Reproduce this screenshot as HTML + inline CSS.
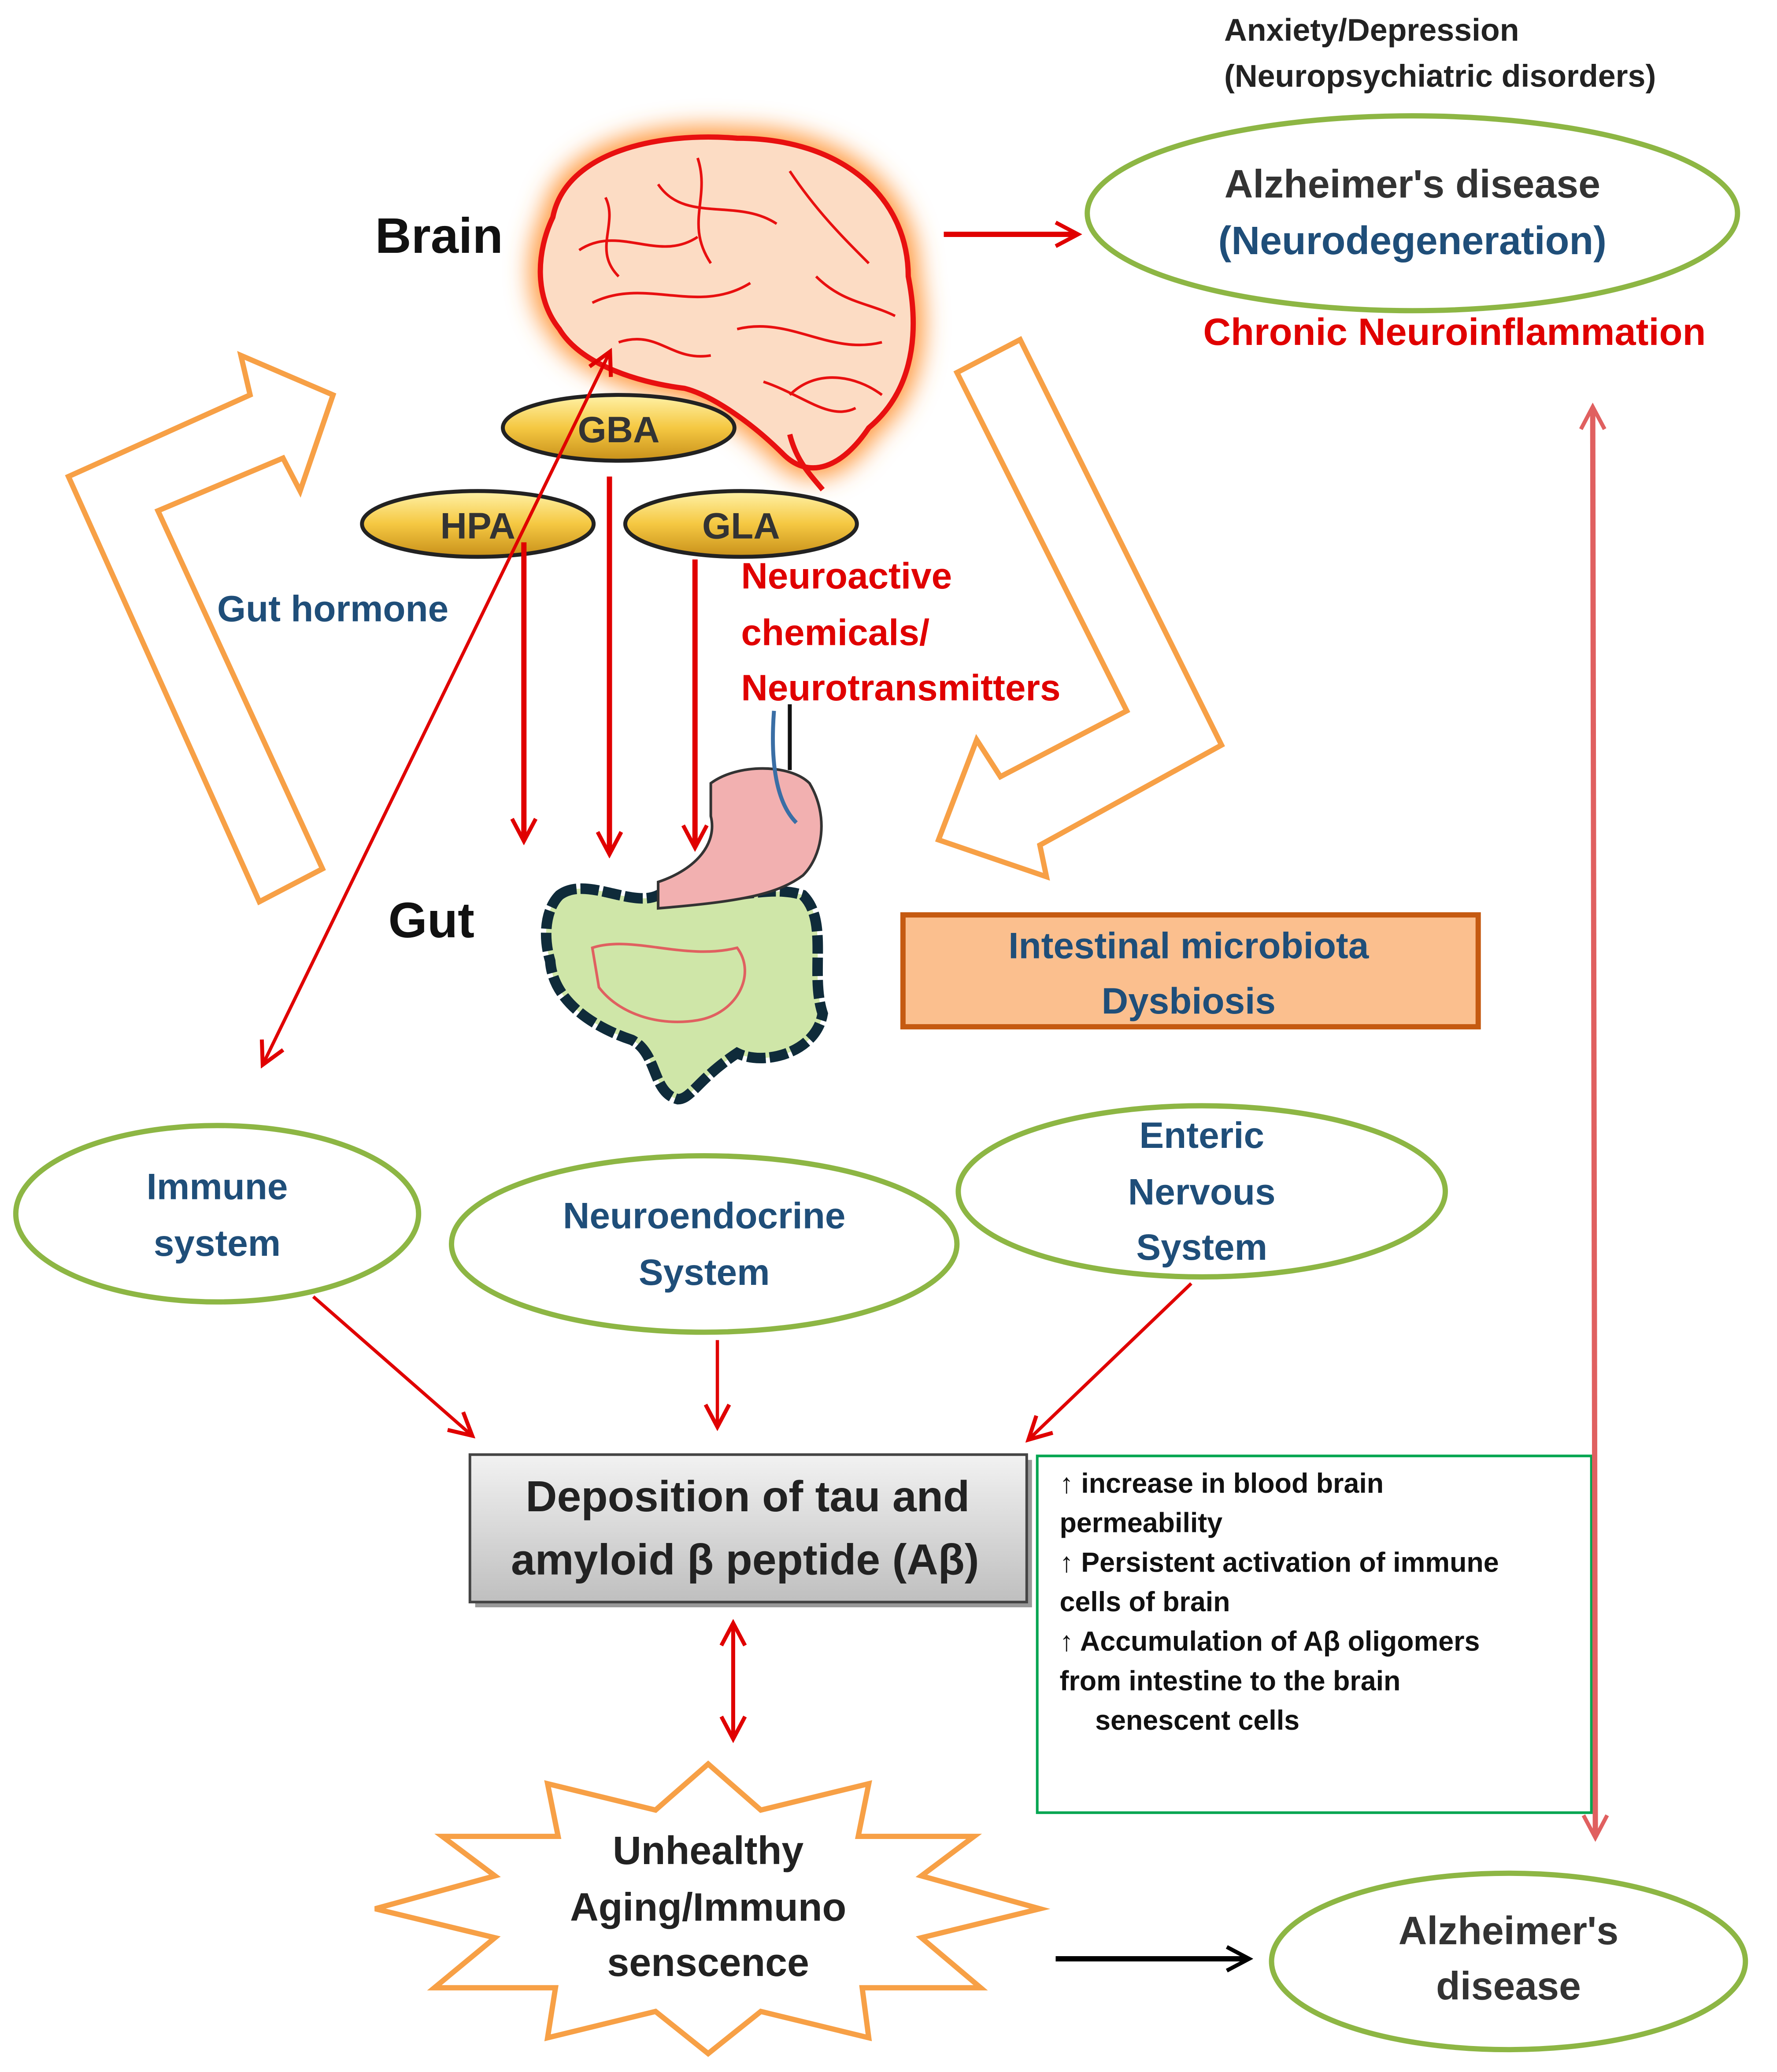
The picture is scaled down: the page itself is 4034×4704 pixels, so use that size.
<!DOCTYPE html>
<html><head><meta charset="utf-8"><style>
html,body{margin:0;padding:0;background:#fff;}
svg{display:block;}
text{font-family:"Liberation Sans",sans-serif;font-weight:bold;}
</style></head><body>
<svg width="4034" height="4704" viewBox="0 0 1350 1574" preserveAspectRatio="none" xmlns="http://www.w3.org/2000/svg">
<defs>
<marker id="ar2" markerWidth="22" markerHeight="22" refX="18" refY="11" orient="auto-start-reverse" markerUnits="userSpaceOnUse"><path d="M2,2 L19,11 L2,20" fill="none" stroke="#e00000" stroke-width="3"/></marker>
<marker id="ar3" markerWidth="22" markerHeight="22" refX="18" refY="11" orient="auto-start-reverse" markerUnits="userSpaceOnUse"><path d="M2,2 L19,11 L2,20" fill="none" stroke="#e06060" stroke-width="3"/></marker>
<marker id="arb" markerWidth="22" markerHeight="22" refX="18" refY="11" orient="auto" markerUnits="userSpaceOnUse"><path d="M2,2 L19,11 L2,20" fill="none" stroke="#000" stroke-width="3"/></marker>
<linearGradient id="gold" x1="0" y1="0" x2="0" y2="1"><stop offset="0" stop-color="#fff2a8"/><stop offset="0.5" stop-color="#f5c842"/><stop offset="1" stop-color="#c8901a"/></linearGradient>
<linearGradient id="gray" x1="0" y1="0" x2="0" y2="1"><stop offset="0" stop-color="#f2f2f2"/><stop offset="1" stop-color="#bfbfbf"/></linearGradient>
<filter id="gl" x="-20%" y="-20%" width="140%" height="140%"><feGaussianBlur stdDeviation="9"/></filter>
</defs>

<text x="930" y="31" font-size="24" fill="#222">Anxiety/Depression</text>
<text x="930" y="66" font-size="24" fill="#222">(Neuropsychiatric disorders)</text>
<ellipse cx="1073" cy="162" rx="247" ry="74" fill="none" stroke="#8db644" stroke-width="4"/>
<text x="1073" y="150" font-size="30" fill="#333" text-anchor="middle">Alzheimer's disease</text>
<text x="1073" y="193" font-size="30" fill="#1f4e79" text-anchor="middle">(Neurodegeneration)</text>
<text x="1105" y="262" font-size="29" fill="#e00000" text-anchor="middle">Chronic Neuroinflammation</text>
<line x1="717" y1="178" x2="818" y2="178" stroke="#e00000" stroke-width="4" marker-end="url(#ar2)"/>

<text x="285" y="192" font-size="38" fill="#111">Brain</text>
<!-- brain -->
<path d="M420,165 C430,115 500,100 560,105 C640,105 690,150 690,210 C700,260 690,300 660,325 C640,355 615,365 595,345 C570,320 540,300 520,295 C480,290 440,275 425,250 C405,225 408,190 420,165Z" fill="#ff9a40" stroke="#ff9a40" stroke-width="16" filter="url(#gl)"/>
<path d="M420,165 C430,115 500,100 560,105 C640,105 690,150 690,210 C700,260 690,300 660,325 C640,355 615,365 595,345 C570,320 540,300 520,295 C480,290 440,275 425,250 C405,225 408,190 420,165Z" fill="#fcdcc4" stroke="#e81010" stroke-width="4"/>
<path d="M440,190 C470,170 500,200 530,180 M450,230 C490,210 530,240 570,215 M500,140 C520,170 560,150 590,170 M600,130 C620,160 640,180 660,200 M560,250 C600,240 630,270 670,260 M580,290 C610,300 630,320 650,310 M470,260 C500,250 510,275 540,270 M620,210 C640,230 660,230 680,240 M530,120 C540,150 520,170 540,200 M460,150 C470,170 450,190 470,210 M600,300 C620,280 650,285 670,300" fill="none" stroke="#e81010" stroke-width="2"/>
<path d="M600,330 C605,350 615,360 625,372" fill="none" stroke="#e81010" stroke-width="4"/>

<!-- hollow arrows -->
<polygon points="197,685 245,660 120,388 215,348 228,373 253,300 183,270 190,300 52,362" fill="#fff" stroke="#f7a046" stroke-width="4"/>
<polygon points="727,283 775,258 928,566 790,642 795,666 713,638 742,562 760,590 856,540" fill="#fff" stroke="#f7a046" stroke-width="4"/>

<!-- ovals -->
<ellipse cx="470" cy="325" rx="88" ry="25" fill="url(#gold)" stroke="#222" stroke-width="3"/>
<text x="470" y="336" font-size="28" fill="#333" text-anchor="middle" font-weight="normal">GBA</text>
<ellipse cx="363" cy="398" rx="88" ry="25" fill="url(#gold)" stroke="#222" stroke-width="3"/>
<text x="363" y="409" font-size="28" fill="#333" text-anchor="middle" font-weight="normal">HPA</text>
<ellipse cx="563" cy="398" rx="88" ry="25" fill="url(#gold)" stroke="#222" stroke-width="3"/>
<text x="563" y="409" font-size="28" fill="#333" text-anchor="middle" font-weight="normal">GLA</text>

<line x1="200" y1="808" x2="463" y2="268" stroke="#e00000" stroke-width="2.5" marker-start="url(#ar2)" marker-end="url(#ar2)"/>
<line x1="398" y1="412" x2="398" y2="638" stroke="#e00000" stroke-width="4" marker-end="url(#ar2)"/>
<line x1="463" y1="362" x2="463" y2="648" stroke="#e00000" stroke-width="4" marker-end="url(#ar2)"/>
<line x1="528" y1="425" x2="528" y2="643" stroke="#e00000" stroke-width="4" marker-end="url(#ar2)"/>

<text x="165" y="472" font-size="28" fill="#1f4e79">Gut hormone</text>
<text x="563" y="447" font-size="28" fill="#e00000">Neuroactive</text>
<text x="563" y="490" font-size="28" fill="#e00000">chemicals/</text>
<text x="563" y="532" font-size="28" fill="#e00000">Neurotransmitters</text>

<text x="295" y="712" font-size="38" fill="#111">Gut</text>
<!-- gut -->
<path d="M425,680 C445,665 480,690 500,680 C540,690 580,670 610,680 C630,700 615,740 625,770 C620,800 580,810 560,800 C530,820 525,835 515,835 C495,830 500,800 480,790 C450,780 420,760 418,730 C412,710 415,690 425,680Z" fill="#cfe6a8" stroke="#0f2b3a" stroke-width="8" stroke-dasharray="14 3"/>
<path d="M450,720 C480,710 520,730 560,720 C575,740 560,770 530,775 C500,780 470,770 455,750Z" fill="none" stroke="#e06060" stroke-width="2"/>
<path d="M540,595 C560,580 600,580 615,595 C630,620 625,650 610,665 C590,680 560,685 500,690 L500,670 C530,660 545,640 540,620Z" fill="#f2b0b0" stroke="#333" stroke-width="2"/>
<line x1="600" y1="535" x2="600" y2="585" stroke="#111" stroke-width="3"/>
<path d="M588,540 C585,580 590,610 605,625" fill="none" stroke="#3a6ea5" stroke-width="3"/>

<rect x="686" y="695" width="437" height="85" fill="#fbbf8e" stroke="#c55a11" stroke-width="4"/>
<text x="903" y="728" font-size="28" fill="#1f4e79" text-anchor="middle" font-weight="normal">Intestinal microbiota</text>
<text x="903" y="770" font-size="28" fill="#1f4e79" text-anchor="middle" font-weight="normal">Dysbiosis</text>

<ellipse cx="165" cy="922" rx="153" ry="67" fill="none" stroke="#8db644" stroke-width="4"/>
<text x="165" y="911" font-size="28" fill="#1f4e79" text-anchor="middle">Immune</text>
<text x="165" y="954" font-size="28" fill="#1f4e79" text-anchor="middle">system</text>
<ellipse cx="535" cy="945" rx="192" ry="67" fill="none" stroke="#8db644" stroke-width="4"/>
<text x="535" y="933" font-size="28" fill="#1f4e79" text-anchor="middle">Neuroendocrine</text>
<text x="535" y="976" font-size="28" fill="#1f4e79" text-anchor="middle">System</text>
<ellipse cx="913" cy="905" rx="185" ry="65" fill="none" stroke="#8db644" stroke-width="4"/>
<text x="913" y="872" font-size="28" fill="#1f4e79" text-anchor="middle">Enteric</text>
<text x="913" y="915" font-size="28" fill="#1f4e79" text-anchor="middle">Nervous</text>
<text x="913" y="957" font-size="28" fill="#1f4e79" text-anchor="middle">System</text>

<line x1="238" y1="985" x2="358" y2="1090" stroke="#e00000" stroke-width="2.5" marker-end="url(#ar2)"/>
<line x1="545" y1="1018" x2="545" y2="1083" stroke="#e00000" stroke-width="2.5" marker-end="url(#ar2)"/>
<line x1="905" y1="975" x2="782" y2="1093" stroke="#e00000" stroke-width="2.5" marker-end="url(#ar2)"/>

<rect x="361" y="1109" width="423" height="112" fill="#999"/>
<rect x="357" y="1105" width="423" height="112" fill="url(#gray)" stroke="#444" stroke-width="2"/>
<text x="568" y="1148" font-size="33" fill="#222" text-anchor="middle">Deposition  of tau and</text>
<text x="566" y="1196" font-size="33" fill="#222" text-anchor="middle">amyloid β peptide (Aβ)</text>

<rect x="788" y="1106" width="421" height="271" fill="#fff" stroke="#00a550" stroke-width="2"/>
<g font-size="21" fill="#111">
<text x="805" y="1134" font-weight="normal">↑ increase in blood brain</text>
<text x="805" y="1164" font-weight="normal">permeability</text>
<text x="805" y="1194" font-weight="normal">↑ Persistent activation  of immune</text>
<text x="805" y="1224" font-weight="normal">cells of brain</text>
<text x="805" y="1254" font-weight="normal">↑ Accumulation  of  Aβ oligomers</text>
<text x="805" y="1284" font-weight="normal">from intestine to the brain</text>
<text x="832" y="1314" font-weight="normal">senescent cells</text>
</g>

<line x1="1210" y1="310" x2="1212" y2="1395" stroke="#e06060" stroke-width="4" marker-start="url(#ar3)" marker-end="url(#ar3)"/>
<line x1="557" y1="1234" x2="557" y2="1320" stroke="#e00000" stroke-width="3" marker-start="url(#ar2)" marker-end="url(#ar2)"/>

<polygon points="538,1340 578,1375 660,1355 652,1395 740,1395 700,1425 790,1450 700,1472 745,1510 655,1510 660,1548 578,1528 538,1560 498,1528 416,1548 422,1510 330,1510 376,1472 285,1450 376,1425 336,1395 424,1395 416,1355 498,1375" fill="#fff" stroke="#f7a046" stroke-width="4"/>
<text x="538" y="1416" font-size="30" fill="#222" text-anchor="middle">Unhealthy</text>
<text x="538" y="1459" font-size="30" fill="#222" text-anchor="middle">Aging/Immuno</text>
<text x="538" y="1501" font-size="30" fill="#222" text-anchor="middle">senscence</text>

<line x1="802" y1="1488" x2="948" y2="1488" stroke="#000" stroke-width="4" marker-end="url(#arb)"/>
<ellipse cx="1146" cy="1490" rx="180" ry="67" fill="none" stroke="#8db644" stroke-width="4"/>
<text x="1146" y="1477" font-size="30" fill="#333" text-anchor="middle">Alzheimer's</text>
<text x="1146" y="1519" font-size="30" fill="#333" text-anchor="middle">disease</text>
</svg>
</body></html>
